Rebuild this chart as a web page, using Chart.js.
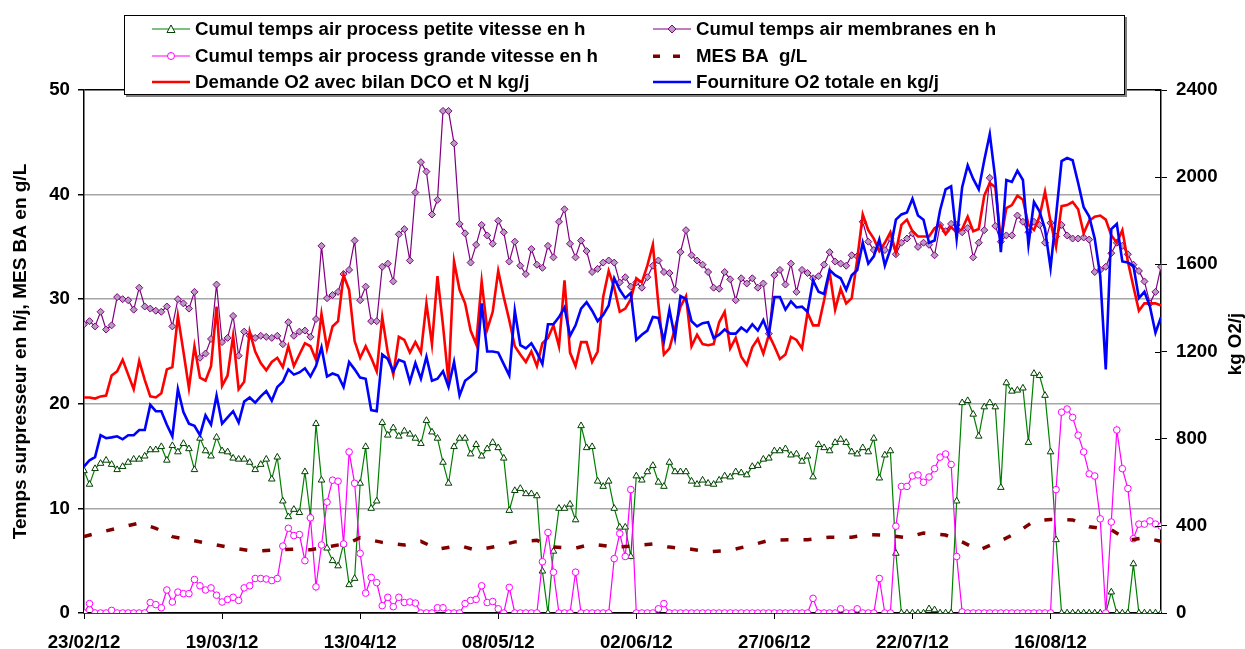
<!DOCTYPE html>
<html>
<head>
<meta charset="utf-8">
<script src="https://cdn.jsdelivr.net/npm/chart.js@4.4.1/dist/chart.umd.min.js"></script>
<style>
  body { margin: 0; background: #fff; }
  #wrap { position: relative; width: 1245px; height: 649px; }
  #legend {
    position: absolute; left: 124px; top: 15px; width: 999px; height: 78px;
    border: 1px solid #000; background: #fff; box-shadow: 2px 2px 0 #808080;
    font: bold 18.7px "Liberation Sans", Arial, sans-serif; color: #000;
  }
  .item { position: absolute; height: 20px; line-height: 20px; white-space: nowrap; }
  .item svg { position: absolute; left: 0; top: 3px; }
  .item span { position: absolute; left: 43px; top: 0; }
</style>
</head>
<body>
<div id="wrap">
  <canvas id="chart" width="1245" height="649"></canvas>
  <div id="legend"></div>
</div>
<script>
// jours depuis le 23/02/12
const xTickDays = [0, 25, 50, 75, 100, 125, 150, 175];
const xTickLabels = ['23/02/12', '19/03/12', '13/04/12', '08/05/12', '02/06/12', '27/06/12', '22/07/12', '16/08/12'];

// Cumul temps air process petite vitesse en h (un point par jour)
const petiteVitesse = [
  13.6,12.3,13.8,14.3,14.6,14.2,13.7,14.0,14.4,14.7,
  14.7,15.0,15.6,15.6,15.9,14.6,16.0,15.4,16.2,15.7,
  13.7,16.7,15.5,15.0,16.8,15.5,15.4,14.8,14.7,14.7,
  14.4,13.7,14.2,14.7,12.8,14.9,10.7,9.2,9.9,9.6,
  13.5,9.2,18.1,12.7,6.2,5.0,4.5,6.6,2.7,3.3,
  12.4,15.9,10.0,10.7,18.2,17.0,17.7,16.9,17.4,17.1,
  16.7,16.2,18.4,17.3,16.7,14.4,12.4,15.9,16.7,16.7,
  15.2,16.1,15.0,15.7,16.3,15.8,14.8,9.8,11.7,11.9,
  11.4,11.4,11.2,4.0,0,5.9,10.0,10.0,10.4,8.9,
  17.9,15.8,15.9,12.6,12.1,12.6,10.0,8.2,8.2,5.4,
  13.1,12.7,13.5,14.1,12.5,12.1,14.4,13.5,13.5,13.5,
  12.6,12.3,12.7,12.4,12.3,12.7,13.1,13.0,13.5,13.4,
  13.2,14.0,14.1,14.7,14.8,15.5,15.5,15.7,15.1,15.2,
  14.5,15.0,13.0,16.1,15.8,15.5,16.3,16.6,16.3,15.4,
  15.2,15.8,15.4,16.7,12.9,15.1,15.5,5.7,0,0,
  0,0,0,0.4,0.3,0,0,0,10.7,20.1,
  20.3,19.0,16.9,19.7,20.1,19.7,12.0,22.0,21.2,21.3,
  21.5,16.3,22.9,22.7,20.8,15.4,7.0,0,0,0,
  0,0,0,0,0,0,2.0,0,0,0,
  4.7,0,0,0,0,0
];

// Cumul temps air process grande vitesse en h
const grandeVitesse = [
  0,0.9,0,0,0,0.25,0,0,0,0,
  0,0,1.0,0.8,0.5,2.2,1.05,2.0,1.85,1.85,
  3.2,2.6,2.2,2.4,1.7,1.05,1.3,1.5,1.2,2.4,
  2.6,3.3,3.3,3.25,3.1,3.3,6.4,8.1,7.4,7.5,
  5.0,9.1,2.5,6.5,10.6,12.7,12.6,6.6,15.4,12.4,
  5.7,1.9,3.4,2.9,0.7,1.5,0.6,1.5,1.0,1.05,
  0.95,0,0,0,0.5,0.5,0,0,0,0.9,
  1.2,1.3,2.6,1.0,1.1,0.4,0,2.45,0,0,
  0,0,0,4.9,7.7,3.9,0,0,0,3.9,
  0,0,0,0,0,0,5.2,7.6,5.4,11.8,
  0,0,0,0,0.4,0.9,0,0,0,0,
  0,0,0,0,0,0,0,0,0,0,
  0,0,0,0,0,0,0,0,0,0,
  0,0,1.4,0,0,0,0,0.4,0,0,
  0.4,0,0,0,3.3,0,0,8.3,12.1,12.1,
  13.1,13.2,12.5,13.0,13.8,14.9,15.2,14.2,5.4,0.1,
  0,0,0,0,0,0,0,0,0,0,
  0,0,0,0,0,0,11.8,19.2,19.5,18.7,
  17.0,15.4,13.3,13.1,9.0,0,8.7,17.5,13.8,11.9,
  7.1,8.5,8.5,8.8,8.5,8.3
];

// Cumul temps air membranes en h
const membranes = [
  27.6,27.9,27.4,28.8,27.1,27.5,30.2,30.0,29.9,29.0,
  31.1,29.3,29.1,28.9,28.8,29.3,27.4,30.0,29.6,29.1,
  30.7,24.4,24.8,26.2,31.4,25.9,26.3,28.4,24.6,26.9,
  26.5,26.3,26.5,26.4,26.3,26.5,25.7,27.8,26.5,26.9,
  27.0,26.4,28.1,35.1,30.1,30.4,30.7,32.4,32.8,35.6,
  29.9,31.2,27.9,27.9,33.1,33.4,31.7,36.2,36.7,33.7,
  40.2,43.1,42.2,38.1,39.5,48.0,48.0,44.9,37.2,36.3,
  33.5,35.2,37.1,36.1,35.3,37.5,36.4,33.6,35.5,33.2,
  32.4,34.8,33.3,33.0,35.1,34.0,37.4,38.6,35.3,34.0,
  35.6,34.6,32.6,32.9,33.5,33.7,33.5,31.6,32.1,31.2,
  31.6,31.1,32.1,33.2,33.7,32.6,32.5,30.9,34.5,36.6,
  34.2,33.7,33.3,32.6,31.1,31.0,32.6,31.9,29.9,32.0,
  31.5,32.0,31.1,31.5,26.7,32.3,32.8,31.4,33.4,30.7,
  32.8,32.5,32.0,32.2,33.3,34.5,33.6,33.4,33.2,34.2,
  34.1,37.4,35.5,34.7,34.9,34.7,35.8,34.3,35.4,35.8,
  36.3,35.0,35.4,35.2,34.2,37.1,36.5,37.2,37.1,36.4,
  36.8,34.0,35.4,36.6,41.6,37.0,35.5,36.1,36.1,38.0,
  37.4,36.4,37.4,37.1,35.4,37.3,36.0,37.1,36.1,35.8,
  35.8,35.9,35.7,32.6,32.8,33.1,34.4,35.4,35.1,34.3,
  33.3,32.7,31.7,29.6,30.7,33.1
];

// MES BA g/L (mesures ponctuelles)
const mesJours = [0,2,6,10,13,16,20,23,27,31,34,38,41,45,48,50,54,58,61,64,68,71,75,78,82,85,89,92,96,99,
  103,106,110,113,117,121,124,128,131,135,139,142,146,149,152,156,159,162,166,169,172,175,179,182,186,189,192,195];
const mesValeurs = [7.3,7.6,8.1,8.6,8.1,7.3,6.9,6.6,6.2,5.9,6.0,6.1,6.05,6.4,6.7,7.2,6.75,6.5,6.85,6.1,
  6.45,6.0,6.4,6.8,6.95,6.3,6.2,6.6,6.3,6.4,6.6,6.3,6.1,5.85,6.0,6.5,6.95,7.0,7.0,7.25,
  7.25,7.5,7.4,7.2,7.65,7.45,6.8,6.0,6.9,7.7,8.8,8.95,8.9,8.25,7.95,6.95,7.2,6.85];

// Demande O2 avec bilan DCO et N kg/j
const demandeO2 = [
  989,989,984,994,998,1090,1109,1162,1094,1027,
  1157,1070,994,989,1008,1118,1128,1363,1200,1032,
  1224,1080,1066,1133,1406,1042,1090,1272,1027,1061,
  1291,1200,1147,1114,1152,1171,1128,1224,1133,1186,
  1238,1224,1162,1373,1214,1315,1339,1550,1483,1248,
  1171,1224,1171,1109,1358,1195,1094,1267,1253,1195,
  1243,1195,1421,1234,1546,1320,1061,1613,1483,1421,
  1296,1234,1522,1301,1382,1570,1450,1344,1224,1186,
  1152,1200,1133,1238,1262,1320,1224,1526,1195,1133,
  1243,1243,1152,1200,1450,1570,1493,1382,1397,1440,
  1536,1517,1594,1690,1416,1186,1214,1306,1406,1454,
  1224,1277,1234,1229,1234,1334,1382,1214,1262,1176,
  1138,1219,1258,1190,1277,1224,1166,1186,1267,1253,
  1214,1378,1320,1320,1435,1565,1392,1488,1421,1445,
  1622,1829,1757,1718,1661,1699,1747,1656,1781,1805,
  1752,1728,1728,1728,1766,1781,1738,1771,1747,1762,
  1819,1752,1762,1915,1973,1954,1709,1858,1872,1915,
  1896,1781,1757,1819,1934,1795,1680,1867,1872,1886,
  1853,1742,1800,1819,1824,1805,1733,1699,1757,1613,
  1498,1387,1421,1421,1421,1411
];

// Fourniture O2 totale en kg/j
const fournitureO2 = [
  672,701,715,816,802,806,811,797,816,816,
  840,840,955,926,926,864,811,1027,922,869,
  859,816,907,864,998,869,898,926,874,970,
  989,965,994,1018,974,1037,1061,1118,1094,1104,
  1123,1085,1133,1219,1085,1099,1090,1037,1152,1118,
  1080,1075,931,926,1186,1166,1109,1162,1152,1061,
  1147,1075,1176,1066,1075,1109,1037,1152,998,1066,
  1085,1109,1421,1200,1200,1195,1142,1090,1387,1229,
  1214,1238,1195,1142,1325,1325,1358,1402,1272,1320,
  1397,1426,1387,1339,1368,1411,1536,1483,1445,1469,
  1253,1277,1296,1358,1354,1248,1392,1262,1454,1440,
  1339,1315,1330,1334,1262,1277,1301,1282,1282,1310,
  1291,1325,1296,1344,1277,1450,1450,1392,1430,1402,
  1406,1382,1526,1474,1464,1574,1550,1536,1483,1550,
  1574,1699,1603,1637,1714,1594,1670,1805,1829,1838,
  1901,1824,1805,1699,1709,1848,1944,1958,1718,1954,
  2054,1992,1944,2078,2198,1992,1656,1987,1978,2030,
  1987,1690,1886,1843,1762,1584,1824,2074,2088,2078,
  1973,1862,1819,1718,1546,1118,1762,1786,1613,1608,
  1594,1445,1474,1406,1286,1358
];

const FONT = '"Liberation Sans", Arial, sans-serif';

function points(arr) {
  return arr.map((v, i) => ({ x: i, y: v }));
}

const series = [
  { key: 'petite', label: 'Cumul temps air process petite vitesse en h' },
  { key: 'membranes', label: 'Cumul temps air membranes en h' },
  { key: 'grande', label: 'Cumul temps air process grande vitesse en h' },
  { key: 'mes', label: 'MES BA\u00a0 g/L' },
  { key: 'demande', label: 'Demande O2 avec bilan DCO et N kg/j' },
  { key: 'fourniture', label: 'Fourniture O2 totale en kg/j' }
];

const symboles = {
  petite: '<line x1="0" y1="7" x2="38" y2="7" stroke="#008000" stroke-width="1.2"/><polygon points="19,3 15,10.5 23,10.5" fill="#fff" stroke="#004000" stroke-width="1"/>',
  membranes: '<line x1="0" y1="7" x2="38" y2="7" stroke="#800080" stroke-width="1.2"/><polygon points="19,3 23,7 19,11 15,7" fill="#b89cc0" stroke="#800080" stroke-width="1"/>',
  grande: '<line x1="0" y1="7" x2="38" y2="7" stroke="#ff00ff" stroke-width="1.2"/><circle cx="19" cy="7" r="3.5" fill="#fff" stroke="#ff00ff" stroke-width="1"/>',
  mes: '<rect x="0" y="5.5" width="7" height="3.5" fill="#800000"/><rect x="20" y="5.5" width="7" height="3.5" fill="#800000"/>',
  demande: '<line x1="0" y1="7" x2="38" y2="7" stroke="#ff0000" stroke-width="2.5"/>',
  fourniture: '<line x1="0" y1="7" x2="38" y2="7" stroke="#0000ff" stroke-width="2.5"/>'
};

// légende sur deux colonnes, trois lignes
const legend = document.getElementById('legend');
const colLeft = [27, 528];
const rowTop = [3, 30, 56];
series.forEach((s, i) => {
  const div = document.createElement('div');
  div.className = 'item';
  div.style.left = colLeft[i % 2] + 'px';
  div.style.top = rowTop[Math.floor(i / 2)] + 'px';
  div.innerHTML = '<svg width="38" height="14">' + symboles[s.key] + '</svg><span>' + s.label + '</span>';
  legend.appendChild(div);
});

const extras = {
  id: 'extras',
  afterDraw(chart) {
    const c = chart.ctx;
    const y2 = chart.scales.y2;
    c.save();
    c.strokeStyle = '#000';
    c.lineWidth = 1;
    y2.ticks.forEach(t => {
      const py = Math.round(y2.getPixelForValue(t.value)) + 0.5;
      c.beginPath();
      c.moveTo(y2.left - 6, py);
      c.lineTo(y2.left, py);
      c.stroke();
    });
    c.translate(1236, 344);
    c.rotate(-Math.PI / 2);
    c.font = 'bold 18.7px ' + FONT;
    c.fillStyle = '#000';
    c.textAlign = 'center';
    c.textBaseline = 'middle';
    c.fillText('kg O2/j', 0, 0);
    c.restore();
  }
};

const tickFont = { family: FONT, size: 18.7, weight: 'bold' };

new Chart(document.getElementById('chart').getContext('2d'), {
  type: 'line',
  data: {
    datasets: [
      {
        label: series[5].label, data: points(fournitureO2), yAxisID: 'y2',
        borderColor: '#0000ff', borderWidth: 2.6, pointRadius: 0
      },
      {
        label: series[4].label, data: points(demandeO2), yAxisID: 'y2',
        borderColor: '#ff0000', borderWidth: 2.6, pointRadius: 0
      },
      {
        label: series[3].label, data: mesJours.map((d, i) => ({ x: d, y: mesValeurs[i] })), yAxisID: 'y',
        borderColor: '#800000', borderWidth: 3.5, borderDash: [8, 15], pointRadius: 0
      },
      {
        label: series[2].label, data: points(grandeVitesse), yAxisID: 'y',
        borderColor: '#ff00ff', borderWidth: 1.2, pointStyle: 'circle', pointRadius: 3.3,
        pointBorderColor: '#ff00ff', pointBackgroundColor: '#fff', pointBorderWidth: 1
      },
      {
        label: series[1].label, data: points(membranes), yAxisID: 'y',
        borderColor: '#800080', borderWidth: 1.2, pointStyle: 'rectRot', pointRadius: 3.5,
        pointBorderColor: '#800080', pointBackgroundColor: '#b89cc0', pointBorderWidth: 1
      },
      {
        label: series[0].label, data: points(petiteVitesse), yAxisID: 'y',
        borderColor: '#008000', borderWidth: 1.2, pointStyle: 'triangle', pointRadius: 3.8,
        pointBorderColor: '#004000', pointBackgroundColor: '#fff', pointBorderWidth: 1
      }
    ]
  },
  options: {
    responsive: false,
    animation: false,
    devicePixelRatio: 1,
    layout: { padding: { top: 90, left: 0, right: 0, bottom: 0 } },
    plugins: { legend: { display: false }, tooltip: { enabled: false } },
    scales: {
      x: {
        type: 'linear', min: 0, max: 195,
        afterBuildTicks: s => { s.ticks = xTickDays.map(v => ({ value: v })); },
        afterFit: s => { s.height = 36; },
        ticks: {
          callback: v => xTickLabels[xTickDays.indexOf(v)],
          font: tickFont, color: '#000', padding: 13, maxRotation: 0, autoSkip: false
        },
        grid: { drawOnChartArea: false, tickLength: 6, tickColor: '#000', color: '#000' },
        border: { color: '#000', width: 1.5 }
      },
      y: {
        position: 'left', min: 0, max: 50,
        afterFit: s => { s.width = 84; },
        ticks: { stepSize: 10, font: tickFont, color: '#000', padding: 8 },
        grid: {
          color: c => (c.tick && (c.tick.value === 50 || c.tick.value === 0)) ? '#000' : '#a6a6a6',
          lineWidth: 1.5, tickColor: '#000', tickLength: 6
        },
        border: { color: '#000', width: 1.5 },
        title: {
          display: true, text: 'Temps surpresseur en h/j, MES BA en g/L',
          font: { family: FONT, size: 19, weight: 'bold' }, color: '#000', padding: { top: 9, bottom: 0 }
        }
      },
      y2: {
        position: 'right', min: 0, max: 2400,
        afterFit: s => { s.width = 84; },
        ticks: { stepSize: 400, font: tickFont, color: '#000', padding: 9, callback: v => String(v) },
        grid: { drawOnChartArea: false, tickColor: '#000', tickLength: 6 },
        border: { color: '#000', width: 1.5 }
      }
    }
  },
  plugins: [extras]
});
</script>
</body>
</html>
